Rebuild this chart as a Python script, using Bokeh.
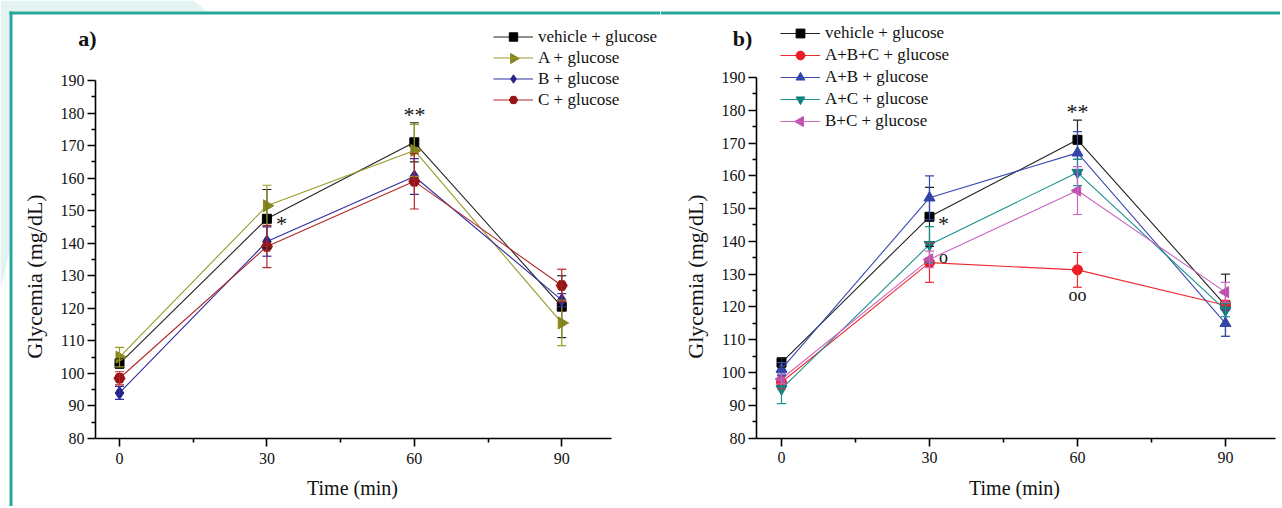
import math
from bokeh.plotting import figure
from bokeh.models import (ColumnDataSource, Whisker, TeeHead, Legend, LegendItem,
                          Label, FixedTicker, Range1d, LinearAxis, BoxAnnotation,
                          PolyAnnotation)
from bokeh.layouts import row
from bokeh.embed import file_html
from bokeh.resources import INLINE

# ---------------- data ----------------
time_min = [0, 30, 60, 90]
x_ticks = [0, 30, 60, 90]
x_minor = [15, 45, 75]
y_ticks = [80, 90, 100, 110, 120, 130, 140, 150, 160, 170, 180, 190]
y_minor = [85, 95, 105, 115, 125, 135, 145, 155, 165, 175, 185]

vehicle = [103, 147.5, 171, 120.5]
vehicle_err = [1.5, 9, 6, 9.5]

# panel a
a_A = [105, 151.5, 168.5, 115.5]
a_A_err = [3, 6.3, 8, 7]
a_B = [94, 140.5, 160.5, 122.5]
a_B_err = [2, 4.5, 5.5, 2]
a_C = [98.5, 139, 159, 127]
a_C_err = [2, 6.5, 8.5, 5]

# panel b
b_ABC = [97, 133.5, 131.3, 120.5]
b_ABC_err = [2, 6, 5.3, 1.5]
b_AB = [101, 153.3, 167, 115]
b_AB_err = [2, 6.7, 6.5, 4]
b_AC = [95, 139, 161, 119]
b_AC_err = [4.5, 5.5, 4, 2]
b_BC = [98, 134.5, 155.5, 124.5]
b_BC_err = [1.5, 2.5, 7.3, 3]

labels_a = ["vehicle + glucose", "A + glucose", "B + glucose", "C + glucose"]
labels_b = ["vehicle + glucose", "A+B+C + glucose", "A+B + glucose",
            "A+C + glucose", "B+C + glucose"]

SERIF = "Liberation Serif"
TEAL = "#2aa79b"
PALE = "#e2f3f1"
FIG_H = 506
GLYPH_W = 40


class Panel:
    """Maps page pixels to data space for one figure (layout helper)."""

    def __init__(self, fig_left, width, x0_px, sx, y80_px, sy):
        self.fig_left, self.width = fig_left, width
        self.x0_px, self.sx, self.y80_px, self.sy = x0_px, sx, y80_px, sy

    def x(self, px):
        return (px - self.x0_px) / self.sx

    def y(self, py):
        return 80 + (self.y80_px - py) / self.sy


def make_panel(geo, series, panel_label, label_px, ylab_px, xlab_px,
               legend_px, row_h, notes, axis_left_px, axis_right_px,
               draw_left_border):
    p = figure(width=geo.width, height=FIG_H,
               x_range=Range1d(geo.x(geo.fig_left), geo.x(geo.fig_left + geo.width)),
               y_range=Range1d(geo.y(FIG_H), geo.y(0)),
               output_backend="svg", toolbar_location=None,
               x_axis_location=None, y_axis_location=None,
               min_border_left=0, min_border_right=0, min_border_top=0,
               min_border_bottom=0)
    p.xgrid.visible = False
    p.ygrid.visible = False
    p.outline_line_color = None
    p.background_fill_color = "white"
    p.border_fill_color = "white"

    # decorative page frame
    if draw_left_border:
        p.add_layout(PolyAnnotation(
            xs=[geo.x(0), geo.x(193), geo.x(206), geo.x(9), geo.x(9), geo.x(0)],
            ys=[geo.y(0), geo.y(0), geo.y(11), geo.y(11), geo.y(250), geo.y(290)],
            fill_color=PALE, fill_alpha=1, line_color=None, level="underlay"))
        p.add_layout(BoxAnnotation(left=geo.x(9), right=geo.x(12), top=geo.y(11),
                                   fill_color=TEAL, fill_alpha=1, line_color=None))
        p.add_layout(BoxAnnotation(left=geo.x(9), top=geo.y(11), bottom=geo.y(14),
                                   fill_color=TEAL, fill_alpha=1, line_color=None))
    else:
        p.add_layout(BoxAnnotation(top=geo.y(11), bottom=geo.y(14),
                                   fill_color=TEAL, fill_alpha=1, line_color=None))

    xa = LinearAxis(fixed_location=80,
                    ticker=FixedTicker(ticks=x_ticks, minor_ticks=x_minor),
                    bounds=(geo.x(axis_left_px), geo.x(axis_right_px)))
    ya = LinearAxis(fixed_location=geo.x(axis_left_px),
                    ticker=FixedTicker(ticks=y_ticks, minor_ticks=y_minor),
                    bounds=(80, 190))
    for ax in (xa, ya):
        ax.axis_line_width = 1.6
        ax.axis_line_color = "black"
        ax.major_tick_line_width = 1.6
        ax.minor_tick_line_width = 1.6
        ax.major_tick_line_color = "black"
        ax.minor_tick_line_color = "black"
        ax.major_tick_in = 0
        ax.major_tick_out = 8
        ax.minor_tick_in = 0
        ax.minor_tick_out = 4
        ax.major_label_text_font = SERIF
        ax.major_label_text_font_size = "16px"
        ax.major_label_text_color = "#111111"
    ya.major_label_standoff = 3
    xa.major_label_standoff = 6
    p.add_layout(xa, "below")
    p.add_layout(ya, "left")

    items = []
    for k, (vals, errs, color, lcolor, marker, size, angle, lab) in enumerate(series):
        src = ColumnDataSource(dict(x=time_min, y=vals,
                                    lo=[v - e for v, e in zip(vals, errs)],
                                    hi=[v + e for v, e in zip(vals, errs)]))
        w = Whisker(base="x", lower="lo", upper="hi", source=src,
                    line_color=lcolor, line_width=1.2, level="glyph",
                    upper_head=TeeHead(size=9, line_color=lcolor, line_width=1.2),
                    lower_head=TeeHead(size=9, line_color=lcolor, line_width=1.2))
        p.add_layout(w)
        lr = p.line("x", "y", source=src, line_color=lcolor, line_width=1.1)
        sr = p.scatter("x", "y", source=src, marker=marker, size=size,
                       angle=angle, fill_color=color, line_color=color)
        if angle == 0:
            items.append(LegendItem(label=lab, renderers=[lr, sr]))
        else:
            # legend keys ignore marker rotation: draw the rotated key on top
            items.append(LegendItem(label=lab, renderers=[lr]))
            kx = legend_px[0] + GLYPH_W / 2
            ky = legend_px[1] + k * row_h
            p.scatter([geo.x(kx)], [geo.y(ky)], marker=marker, size=10,
                      angle=angle, fill_color=color, line_color=color,
                      level="overlay")

    n = len(items)
    leg_h = row_h * n
    lx = legend_px[0] - geo.fig_left
    ly = int(round(FIG_H - (legend_px[1] - row_h / 2 + leg_h)))
    leg = Legend(items=items, location=(lx, ly), padding=0, margin=0,
                 spacing=0, glyph_width=GLYPH_W, glyph_height=row_h,
                 label_height=row_h, label_standoff=5, border_line_color=None,
                 background_fill_alpha=0, label_text_font=SERIF,
                 label_text_font_size="17px", label_text_color="#111111")
    p.add_layout(leg)

    p.add_layout(Label(x=geo.x(label_px[0]), y=geo.y(label_px[1]), text=panel_label,
                       text_font=SERIF, text_font_style="bold",
                       text_font_size="22px", text_align="center",
                       text_baseline="middle", text_color="#111111"))
    p.add_layout(Label(x=geo.x(ylab_px[0]), y=geo.y(ylab_px[1]),
                       text="Glycemia (mg/dL)", angle=math.pi / 2,
                       text_font=SERIF, text_font_size="22px",
                       text_align="center", text_baseline="middle",
                       text_color="#111111"))
    p.add_layout(Label(x=geo.x(xlab_px[0]), y=geo.y(xlab_px[1]), text="Time (min)",
                       text_font=SERIF, text_font_size="20px",
                       text_align="center", text_baseline="middle",
                       text_color="#111111"))
    for (nx, ny, t, fs) in notes:
        p.add_layout(Label(x=geo.x(nx), y=geo.y(ny), text=t, text_font=SERIF,
                           text_font_size=fs, text_align="center",
                           text_baseline="middle", text_color="#111111"))
    return p


series_a = [
    (vehicle, vehicle_err, "black", "#222222", "square", 9, 0, labels_a[0]),
    (a_A, a_A_err, "#86861c", "#9a9a2a", "triangle", 12, -math.pi / 2, labels_a[1]),
    (a_B, a_B_err, "#23238a", "#2e2ea0", "diamond", 13, 0, labels_a[2]),
    (a_C, a_C_err, "#9a1414", "#b02828", "hex", 11, 0, labels_a[3]),
]
series_b = [
    (vehicle, vehicle_err, "black", "#222222", "square", 9, 0, labels_b[0]),
    (b_ABC, b_ABC_err, "#ee1c24", "#ee2a30", "circle", 10, 0, labels_b[1]),
    (b_AB, b_AB_err, "#3046a8", "#3a4ab0", "triangle", 11, 0, labels_b[2]),
    (b_AC, b_AC_err, "#0f7f7f", "#1a9090", "inverted_triangle", 11, 0, labels_b[3]),
    (b_BC, b_BC_err, "#c050b0", "#cc66c0", "triangle", 11, math.pi / 2, labels_b[4]),
]

# annotation positions given in page pixels
notes_a = [(281, 223, "*", "22px"), (414, 114, "**", "22px")]
notes_b = [(943, 223, "*", "22px"), (943, 256, "o", "18px"),
           (1077, 111, "**", "22px"), (1077, 294, "oo", "18px")]

geo_a = Panel(0, 660, 119, 4.914, 438, 3.255)
geo_b = Panel(660, 620, 781, 4.933, 437.5, 3.2773)

pa = make_panel(geo_a, series_a, "a)", (87, 38), (34, 276), (352, 487),
                (493, 37), 21, notes_a, 95, 611, True)
pb = make_panel(geo_b, series_b, "b)", (742, 38), (695, 276), (1014, 487),
                (780, 33), 22, notes_b, 756, 1275, False)

layout = row(pa, pb)

open("out.html", "w").write(file_html(layout, INLINE))
